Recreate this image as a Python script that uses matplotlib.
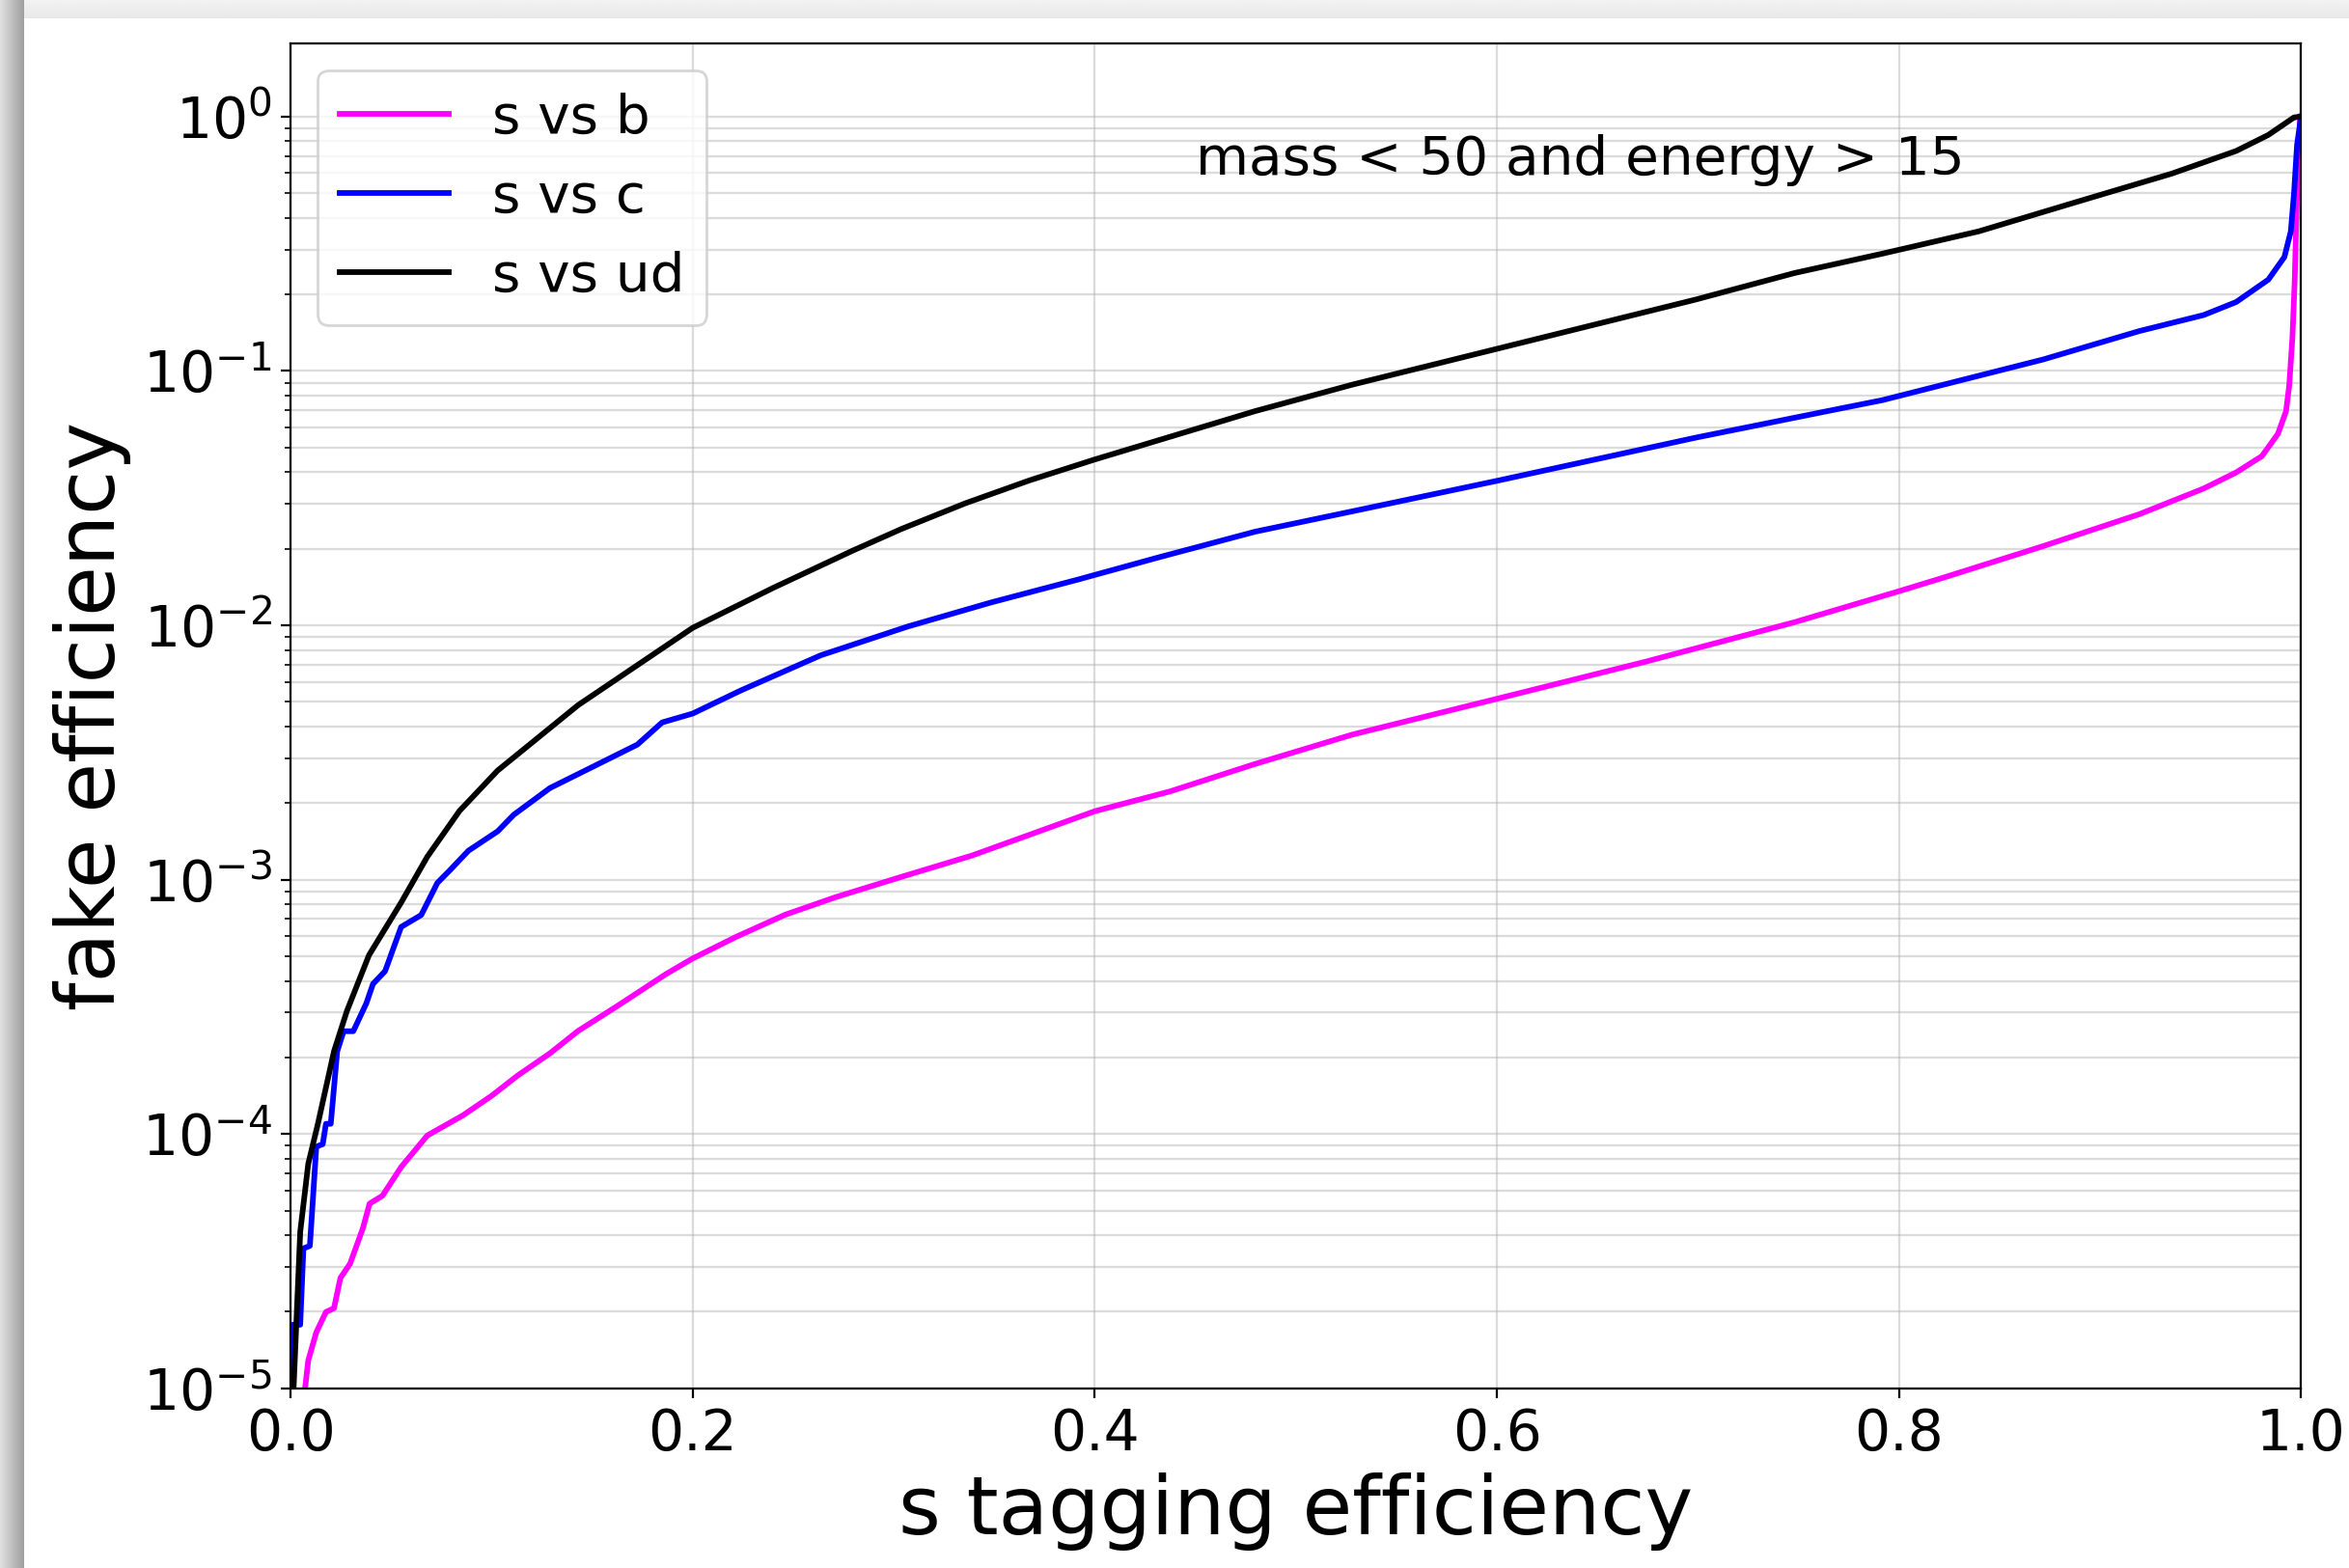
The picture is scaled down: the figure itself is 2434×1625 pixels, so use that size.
import matplotlib.pyplot as plt
import numpy as np

# s tagging efficiency vs fake efficiency (fake efficiency stored as log10)
x_ud = [0.0015, 0.0048, 0.0088, 0.0136, 0.0216, 0.028, 0.039, 0.055, 0.068, 0.084,
        0.103, 0.143, 0.2, 0.24, 0.28, 0.3036, 0.3357, 0.3676, 0.4, 0.4797,
        0.528, 0.6, 0.699, 0.748, 0.7916, 0.8397, 0.8877, 0.9357, 0.9677, 0.9837,
        0.9965, 1.0]
log_ud = [-5.0, -4.385, -4.117, -3.96, -3.675, -3.517, -3.297, -3.09, -2.91, -2.73,
          -2.571, -2.314, -2.01, -1.853, -1.705, -1.622, -1.52, -1.43, -1.348, -1.158,
          -1.054, -0.913, -0.719, -0.615, -0.539, -0.451, -0.337, -0.224, -0.135, -0.072,
          -0.003, 0.0]

x_c = [0.0008, 0.0008, 0.0048, 0.0064, 0.0096, 0.0128, 0.016, 0.0176, 0.020, 0.0232,
       0.0264, 0.0312, 0.0377, 0.041, 0.047, 0.055, 0.065, 0.073, 0.079, 0.0885,
       0.103, 0.111, 0.129, 0.143, 0.1725, 0.1848, 0.2, 0.224, 0.2637, 0.3069,
       0.3485, 0.3917, 0.4317, 0.4797, 0.528, 0.6, 0.699, 0.7725, 0.7916, 0.8236,
       0.8716, 0.9196, 0.9516, 0.9677, 0.9837, 0.9917, 0.9949, 0.9965, 0.998, 1.0]
log_c = [-5.0, -4.75, -4.75, -4.45, -4.44, -4.05, -4.04, -3.96, -3.96, -3.675,
         -3.596, -3.596, -3.486, -3.41, -3.36, -3.186, -3.139, -3.013, -2.965, -2.886,
         -2.81, -2.745, -2.64, -2.585, -2.469, -2.382, -2.347, -2.256, -2.118, -2.005,
         -1.91, -1.82, -1.733, -1.632, -1.552, -1.432, -1.262, -1.145, -1.115, -1.051,
         -0.955, -0.843, -0.78, -0.729, -0.641, -0.552, -0.451, -0.3, -0.11, 0.0]

x_b = [0.0072, 0.0088, 0.0128, 0.0176, 0.0216, 0.0248, 0.0296, 0.036, 0.0393, 0.0457,
       0.055, 0.068, 0.0857, 0.1, 0.113, 0.129, 0.143, 0.1627, 0.187, 0.2,
       0.2216, 0.246, 0.2707, 0.3026, 0.339, 0.4, 0.4375, 0.479, 0.528, 0.6,
       0.674, 0.748, 0.8, 0.8236, 0.8716, 0.9196, 0.9516, 0.9677, 0.9805, 0.9885,
       0.9925, 0.9941, 0.9957, 0.9968, 0.998, 0.9995]
log_b = [-5.0, -4.89, -4.78, -4.70, -4.685, -4.566, -4.51, -4.37, -4.274, -4.243,
         -4.13, -4.006, -3.927, -3.85, -3.77, -3.683, -3.595, -3.496, -3.37, -3.31,
         -3.225, -3.138, -3.07, -2.992, -2.905, -2.731, -2.653, -2.547, -2.43, -2.289,
         -2.143, -1.988, -1.866, -1.809, -1.689, -1.563, -1.462, -1.399, -1.335, -1.247,
         -1.159, -1.058, -0.868, -0.65, -0.3, 0.0]

fig = plt.figure(figsize=(12.17, 8.125), dpi=200)

# screenshot shadow on the left and top edges
sh_left = fig.add_axes([0, 0, 25 / 2434, 1])
sh_left.imshow(np.linspace(0.88, 0.62, 50)[None, :], cmap='gray', vmin=0, vmax=1,
               aspect='auto', extent=[0, 1, 0, 1])
sh_left.axis('off')
sh_top = fig.add_axes([25 / 2434, 1 - 19 / 1625, 1, 19 / 1625])
sh_top.imshow(np.linspace(0.95, 0.91, 20)[:, None], cmap='gray', vmin=0, vmax=1,
              aspect='auto', extent=[0, 1, 0, 1])
sh_top.axis('off')

ax = fig.add_axes([0.1237, 0.1146, 0.8559, 0.8577])
ax.plot(x_b, 10 ** np.array(log_b), color='magenta', lw=2.1, label='s vs b')
ax.plot(x_c, 10 ** np.array(log_c), color='blue', lw=2.1, label='s vs c')
ax.plot(x_ud, 10 ** np.array(log_ud), color='black', lw=2.1, label='s vs ud')

ax.set_yscale('log')
ax.set_xlim(0, 1)
ax.set_ylim(1e-5, 1.94)
ax.grid(True, which='both', color='#b0b0b0', alpha=0.45, lw=0.8)
ax.tick_params(labelsize=21)
ax.set_xlabel('s tagging efficiency', fontsize=30.3)
ax.set_ylabel('fake efficiency', fontsize=30.3)
ax.text(0.45, 0.59, 'mass < 50 and energy > 15', fontsize=20.3)
ax.legend(loc='upper left', fontsize=20.3)

plt.savefig('out.png', dpi=200)
